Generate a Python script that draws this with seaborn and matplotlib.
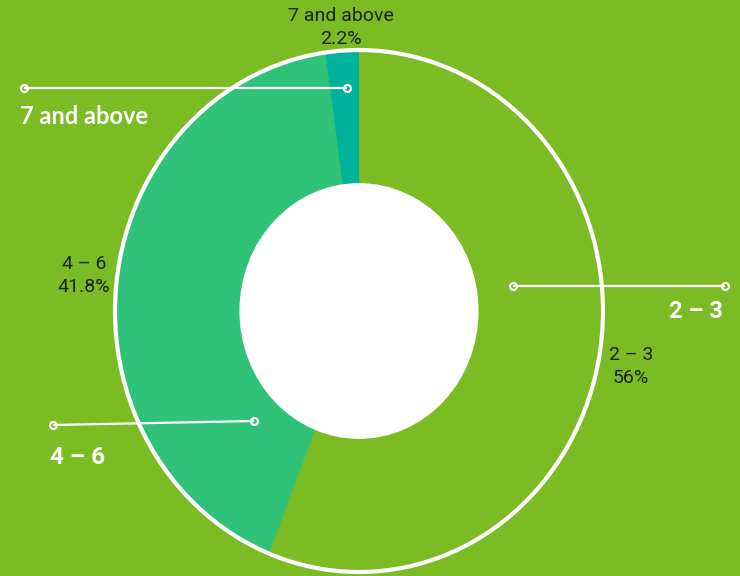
import matplotlib.pyplot as plt
from matplotlib.patches import Ellipse
import seaborn as sns

# data
groups = ['2 – 3', '4 – 6', '7 and above']
shares = [56.0, 41.8, 2.2]
pct_text = ['56%', '41.8%', '2.2%']

BG = '#7bbb24'
COLORS = ['#7bbb24', '#31c27a', '#00b39a']
DARK = '#1a2413'

sns.set_style('white')
plt.rcParams['font.family'] = ['Roboto', 'DejaVu Sans']

W, H = 740, 576
fig = plt.figure(figsize=(W / 100, H / 100), dpi=100, facecolor=BG)

# pixel-coordinate overlay for callouts
ax_px = fig.add_axes([0, 0, 1, 1])
ax_px.set_xlim(0, W)
ax_px.set_ylim(H, 0)
ax_px.axis('off')
ax_px.set_zorder(3)
ax_px.patch.set_alpha(0)

# donut (slightly taller than wide, like the source)
cx, cy, rx, ry = 359, 311, 244, 261
ax = fig.add_axes([(cx - rx) / W, (H - cy - ry) / H, 2 * rx / W, 2 * ry / H])
ax.set_facecolor('none')
labels = [f'{g}\n{p}' for g, p in zip(groups, pct_text)]
wedges, texts = ax.pie(
    shares,
    colors=COLORS,
    labels=labels,
    startangle=90,
    counterclock=False,
    radius=1,
    labeldistance=1.135,
    textprops=dict(ha='center', va='center', ma='center', color=DARK,
                   fontsize=14, linespacing=1.35),
    wedgeprops=dict(linewidth=0),
)
# the small top slice label sits a bit closer to the ring
tx, ty = texts[2].get_position()
texts[2].set_position((tx * 0.96, ty * 0.96))
ax.set_aspect('auto')
ax.set_xlim(-1, 1)
ax.set_ylim(-1, 1)
ax.add_patch(Ellipse((0, 0), 2, 2, fill=False, ec='white', lw=3, clip_on=False))
ax.add_patch(Ellipse((0, 0), 0.98, 0.98, fc='white', ec='none'))

# callouts
callouts = [
    ((24, 88), (347, 88), '7 and above', (20, 116), 'left', 'Lato', 17),
    ((513, 286), (725, 286), '2 – 3', (723, 312), 'right', 'Roboto', 17),
    ((53, 425), (254, 421), '4 – 6', (50, 457), 'left', 'Roboto', 17.5),
]
for (x0, y0), (x1, y1), txt, (tx, ty), ha, fam, fs in callouts:
    ax_px.plot([x0, x1], [y0, y1], color='white', lw=1.6, solid_capstyle='butt')
    ax_px.plot([x0, x1], [y0, y1], linestyle='none', marker='o', ms=5,
               mfc='none', mec='white', mew=1.5)
    ax_px.text(tx, ty, txt, ha=ha, va='center', color='white',
               fontsize=fs, fontweight='bold', family=[fam, 'DejaVu Sans'])

fig.savefig('out.png', dpi=100, facecolor=BG)
